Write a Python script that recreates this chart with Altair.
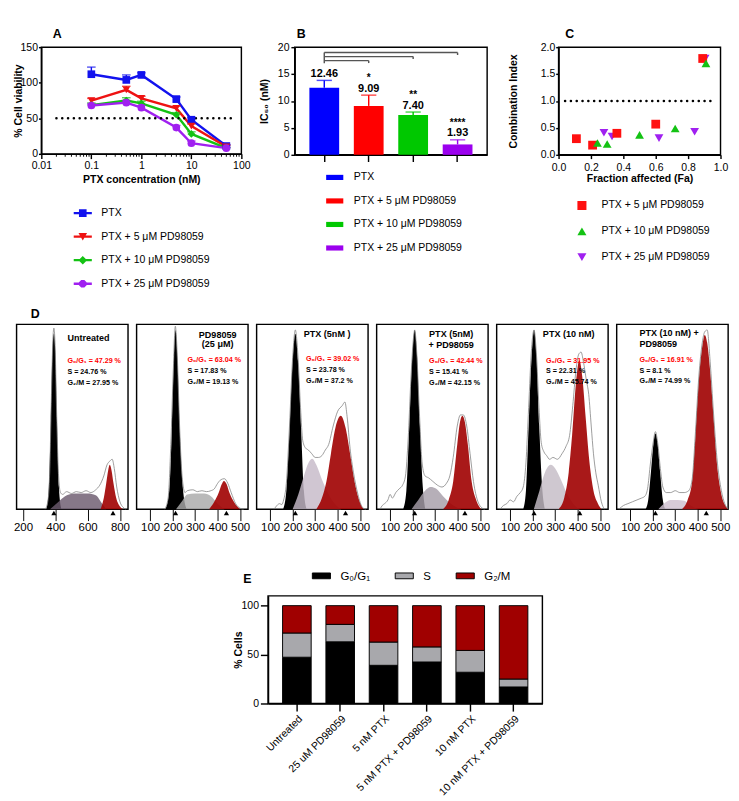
import altair as alt
import pandas as pd

FONT = "Liberation Sans"
NARROW = "Liberation Sans Narrow, Liberation Sans"

# ---------------- Panel A : cell viability ----------------
A_CONC = [0.1, 0.5, 1, 5, 10, 50]
A_SERIES = ["PTX", "PTX + 5 μM PD98059", "PTX + 10 μM PD98059", "PTX + 25 μM PD98059"]
A_PTX = [112, 104, 111, 77, 48, 11]
A_PTX5 = [75, 90, 78, 64, 39, 10]
A_PTX10 = [68.5, 75, 71, 55, 28, 8]
A_PTX25 = [68, 72, 65, 37, 15, 8]
A_ERR_PTX = [10, 7, 3, 3, 3, 2]
A_ERR_5 = [3, 5, 3, 3, 3, 2]
A_ERR_10 = [3, 4, 3, 3, 3, 1]
A_ERR_25 = [2, 3, 3, 3, 3, 1]
A_COLORS = ["#1212EE", "#EE1212", "#14C214", "#A020F0"]
A_SHAPES = ["square", "triangle-down", "diamond", "circle"]
A_LEG_PATHS = [
    "M-1.9,-0.25H1.9V0.25H-1.9Z M-0.8,-0.8H0.8V0.8H-0.8Z",
    "M-1.9,-0.25H1.9V0.25H-1.9Z M-0.9,-0.75L0.9,-0.75L0,0.8Z",
    "M-1.9,-0.25H1.9V0.25H-1.9Z M0,-0.9L0.9,0L0,0.9L-0.9,0Z",
    "M-1.9,-0.25H1.9V0.25H-1.9Z M-0.33,-0.8L0.33,-0.8L0.8,-0.33L0.8,0.33L0.33,0.8L-0.33,0.8L-0.8,0.33L-0.8,-0.33Z",
]
A_XTICKS = [0.01, 0.1, 1, 10, 100]
A_MINOR = [0.02, 0.03, 0.04, 0.05, 0.06, 0.07, 0.08, 0.09,
           0.2, 0.3, 0.4, 0.5, 0.6, 0.7, 0.8, 0.9,
           2, 3, 4, 5, 6, 7, 8, 9,
           20, 30, 40, 50, 60, 70, 80, 90]
A_YTICKS = [0, 50, 100, 150]
A_CUT_FROM, A_CUT_TO, A_CUT_Y = 0.02, 70, 50

# ---------------- Panel B : IC50 ----------------
B_IC50 = [12.46, 9.09, 7.40, 1.93]
B_ERR = [1.37, 2.0, 0.55, 0.86]
B_STARS = ["", "*", "**", "****"]
B_COLORS = ["#0000FF", "#FF0000", "#00C800", "#9B00EE"]
B_BR_TO = [A_SERIES[1], A_SERIES[2], A_SERIES[3]]
B_BR_Y = [17.5, 18.25, 19.0]
B_BR_LOW = [17.05, 17.8, 18.55]
B_BR_LEFT = [19.0, 17.0]

# ---------------- Panel C : combination index ----------------
C_SERIES = A_SERIES[1:]
C_COLORS = ["#FF1010", "#14C214", "#A020F0"]
C_SHAPES = ["square", "triangle-up", "triangle-down"]
C_FA_5 = [0.11, 0.21, 0.36, 0.60, 0.89]
C_CI_5 = [0.30, 0.18, 0.40, 0.57, 1.79]
C_FA_10 = [0.24, 0.30, 0.50, 0.72, 0.91]
C_CI_10 = [0.22, 0.20, 0.37, 0.49, 1.70]
C_FA_25 = [0.28, 0.33, 0.62, 0.84, 0.905]
C_CI_25 = [0.41, 0.34, 0.31, 0.43, 1.79]
C_CUT_FROM, C_CUT_TO, C_CUT_Y = 0.04, 0.97, 1.0

# ---------------- Panel E / D : cell cycle ----------------
E_CATS = ["Untreated", "25 uM PD98059", "5 nM PTX", "5 nM PTX + PD98059", "10 nM PTX", "10 nM PTX + PD98059"]
PHASES = ["G₀/G₁", "S", "G₂/M"]
PHASE_COLORS = ["#000000", "#A8A8AC", "#A00000"]
G0G1 = [47.29, 63.04, 39.02, 42.44, 31.95, 16.91]
S_PH = [24.76, 17.83, 23.78, 15.41, 22.31, 8.1]
G2M = [27.95, 19.13, 37.2, 42.15, 45.74, 74.99]

# flow histograms (channel, relative count)
D_DOMAIN = [[160, 850], [40, 535], [40, 535], [40, 535], [40, 535], [40, 535]]
D_TICKS = [[200, 400, 600, 800], [100, 200, 300, 400, 500], [100, 200, 300, 400, 500],
           [100, 200, 300, 400, 500], [100, 200, 300, 400, 500], [100, 200, 300, 400, 500]]
D_S_COLOR = ["#6B5A6E", "#A9A9A9", "#C6BAC8", "#A69DA8", "#C4BCC6", "#CEBFD0"]
D_G1 = [
    [(345, 0), (360, 12), (372, 48), (382, 85), (391, 95), (400, 85), (410, 48), (422, 12), (437, 0)],
    [(168, 0), (185, 10), (197, 45), (206, 82), (213, 97), (221, 82), (231, 45), (245, 12), (262, 0)],
    [(158, 0), (172, 10), (186, 42), (200, 80), (212, 95), (224, 80), (238, 42), (250, 10), (262, 0)],
    [(158, 0), (172, 10), (185, 45), (198, 82), (209, 97), (220, 82), (232, 45), (245, 12), (256, 0)],
    [(158, 0), (170, 10), (182, 45), (195, 82), (206, 97), (217, 82), (229, 45), (242, 12), (254, 0)],
    [(168, 0), (180, 5), (192, 20), (203, 35), (212, 41), (222, 35), (233, 20), (245, 5), (256, 0)],
]
D_S = [
    [(367, 0), (420, 4), (460, 7), (520, 8.5), (600, 8.5), (650, 7.5), (690, 3), (715, 0)],
    [(215, 0), (240, 4), (265, 8), (300, 8.5), (340, 8.5), (370, 7), (400, 3), (430, 0)],
    [(200, 0), (225, 8), (250, 18), (270, 25), (287, 27.3), (305, 24), (330, 16), (360, 8), (390, 2.5), (415, 0)],
    [(195, 0), (225, 5), (255, 10), (280, 12), (305, 11), (335, 7), (370, 3), (415, 0)],
    [(205, 0), (230, 10), (255, 20), (280, 24), (300, 22), (325, 16), (350, 9), (380, 3), (408, 0)],
    [(225, 0), (250, 3), (280, 5), (310, 5), (340, 4.5), (370, 2), (400, 0)],
]
D_G2 = [
    [(680, 0), (700, 6), (715, 14), (727, 21), (737, 24), (748, 21), (760, 14), (777, 6), (800, 1.5), (820, 0)],
    [(362, 0), (385, 4), (405, 9), (418, 13.5), (428, 15.3), (440, 13.5), (452, 9), (472, 4), (500, 0)],
    [(305, 0), (330, 6), (350, 15), (370, 30), (390, 44), (414, 50.5), (435, 44), (455, 30), (475, 15), (495, 5), (515, 0)],
    [(335, 0), (360, 5), (380, 15), (398, 35), (410, 47), (421, 50.5), (432, 47), (445, 35), (462, 15), (482, 5), (505, 0)],
    [(315, 0), (340, 6), (360, 20), (375, 40), (392, 68), (407, 80.6), (420, 72), (435, 50), (450, 28), (470, 10), (490, 3), (505, 0)],
    [(330, 0), (355, 5), (375, 15), (390, 40), (405, 70), (420, 88), (431, 94.3), (442, 90), (455, 75), (470, 50), (485, 25), (505, 8), (525, 1.5), (535, 0)],
]
D_OUT = [
    [(338, 0), (355, 5), (366, 22), (376, 62), (385, 92), (391, 98), (398, 90), (408, 52), (420, 18), (432, 9), (445, 8),
     (470, 9.5), (500, 8.5), (530, 9.5), (560, 9), (590, 10), (620, 9), (650, 10.5), (675, 13), (700, 18), (720, 24),
     (737, 26), (752, 27), (765, 22), (780, 12), (800, 4), (820, 1), (835, 0)],
    [(165, 0), (180, 6), (192, 35), (203, 75), (212, 99), (220, 85), (230, 48), (242, 18), (255, 9), (265, 10), (290, 10.5),
     (310, 9.5), (330, 10), (350, 9.5), (370, 10), (385, 11), (400, 14), (415, 16), (430, 16.5), (445, 14), (460, 9),
     (480, 3), (500, 0.5), (515, 0)],
    [(118, 0), (130, 2), (142, 3), (152, 2.5), (160, 5), (172, 14), (186, 45), (200, 82), (212, 97), (224, 82), (235, 55),
     (245, 37), (258, 33), (270, 32), (285, 30), (300, 28), (315, 28), (330, 29), (345, 32), (360, 35), (380, 45),
     (400, 53), (420, 56), (432, 58), (442, 50), (455, 33), (470, 20), (490, 8), (510, 1), (525, 0)],
    [(55, 0), (65, 2), (75, 3), (90, 5), (100, 8), (110, 6), (125, 9), (140, 11), (155, 13), (168, 18), (180, 38), (192, 70),
     (203, 92), (209, 97), (218, 85), (230, 52), (242, 25), (255, 18), (270, 17), (290, 15), (310, 13), (330, 12),
     (350, 14), (365, 18), (380, 28), (398, 45), (412, 51), (425, 51), (440, 45), (455, 30), (470, 15), (490, 4),
     (505, 1), (520, 0)],
    [(55, 0), (70, 2), (85, 3), (100, 5), (115, 4), (130, 7), (145, 9), (158, 12), (170, 25), (182, 55), (195, 87),
     (206, 97), (216, 85), (228, 55), (238, 36), (250, 31), (262, 29), (275, 27), (290, 28), (310, 27), (330, 30),
     (348, 34), (364, 40), (378, 56), (392, 75), (405, 84), (415, 85), (425, 80), (438, 70), (449, 62), (460, 45),
     (470, 30), (480, 20), (491, 13), (505, 4), (518, 0)],
    [(50, 0), (70, 2), (90, 3), (110, 4), (130, 5), (150, 6), (165, 7), (177, 11), (190, 25), (202, 36), (212, 42),
     (222, 36), (234, 22), (245, 12), (260, 9), (280, 9), (300, 10), (320, 9), (340, 9), (360, 10), (375, 16), (390, 42),
     (405, 72), (420, 90), (431, 96), (442, 97), (455, 80), (470, 52), (485, 28), (505, 10), (520, 3), (535, 0)],
]
D_MARKS = [[391, 757], [213, 439], [212, 435], [209, 432], [206, 409], [212, 438]]
D_TITLES = [["Untreated"], ["PD98059", "(25 μM)"], ["PTX (5nM )"], ["PTX (5nM)", "+ PD98059"],
            ["PTX (10 nM)"], ["PTX (10 nM) +", "PD98059"]]
# annotation anchors (channel, relative height)
D_TITLE_X = [475, 400, 353, 371, 360, 141]
D_TITLE_ALIGN = ["left", "center", "center", "center", "center", "left"]
D_TITLE_Y = [[92.3], [94.3, 89.2], [94.8], [94.8, 88.7], [94.8], [95.2, 89.2]]
D_STAT_X = [475, 266, 259, 273, 259, 141]
D_STAT_Y = [[80, 74, 68.4], [80.6, 74.6, 69], [81.4, 75.4, 69.4], [80.2, 74.2, 68.4], [80, 74.6, 69], [80.6, 74.9, 69.4]]


def spacer(w, h):
    return alt.Chart(pd.DataFrame({"v": [0]})).mark_point(opacity=0, size=1).encode(
        x=alt.value(0), y=alt.value(0)
    ).properties(width=w, height=h, view=alt.ViewBackground(stroke="transparent"))


def ptitle(letter, dx, offset, anchor="start"):
    return alt.TitleParams(text=letter, anchor=anchor, frame="group", dx=dx, offset=offset,
                           fontSize=13, fontWeight="bold", font=FONT, color="black")


def letter(t, dx):
    return alt.Chart(pd.DataFrame({"t": [t]})).mark_text(
        fontSize=13, fontWeight="bold", font=FONT, color="black", align="left", baseline="alphabetic"
    ).encode(text="t:N", x=alt.value(dx), y=alt.value(-10))


# ================= Panel A =================
rowsA = []
for s, vals, errs in zip(A_SERIES, [A_PTX, A_PTX5, A_PTX10, A_PTX25],
                         [A_ERR_PTX, A_ERR_5, A_ERR_10, A_ERR_25]):
    for c, v, e in zip(A_CONC, vals, errs):
        rowsA.append({"series": s, "conc": c, "v": v, "hi": v + e})
dfA = pd.DataFrame(rowsA)

xsA = alt.Scale(type="log", domain=[0.01, 100], nice=False)
ysA = alt.Scale(domain=[0, 150], nice=False)
axA_x = alt.Axis(values=A_XTICKS, format="~g", title="PTX concentration (nM)", titleY=21, titleBaseline="top",
                 tickSize=5, labelPadding=1, labelFlush=False, labelFontSize=11)
axA_y = alt.Axis(values=A_YTICKS, title="% Cell viability", titleX=-18.5, tickSize=3, labelPadding=1,
                 labelFontSize=11)


def XA(f):
    return alt.X(f, scale=xsA, axis=axA_x)


def YA(f):
    return alt.Y(f, scale=ysA, axis=axA_y)


colA = alt.Color("series:N", scale=alt.Scale(domain=A_SERIES, range=A_COLORS), legend=None)
legA = alt.Legend(orient="none", legendX=38, legendY=168.7, title=None, labelFontSize=11, labelFont=FONT,
                  symbolSize=100, rowPadding=12.7, labelOffset=14, symbolStrokeWidth=0)

cutA = pd.DataFrame({"x": [A_CUT_FROM], "x2": [A_CUT_TO], "y": [A_CUT_Y]})
a_cut = alt.Chart(cutA).mark_rule(strokeDash=[0.1, 6], strokeCap="round", strokeWidth=2.6, color="black").encode(
    x=XA("x:Q"), x2="x2:Q", y=YA("y:Q"))
a_minor = alt.Chart(pd.DataFrame({"m": A_MINOR})).mark_rule(strokeWidth=1, color="black").encode(
    x=XA("m:Q"), y=alt.value(112), y2=alt.value(115))
a_err = alt.Chart(dfA).mark_rule(strokeWidth=1.5).encode(x=XA("conc:Q"), y=YA("v:Q"), y2="hi:Q", color=colA)
a_cap = alt.Chart(dfA).mark_tick(orient="horizontal", size=9, thickness=1.5).encode(
    x=XA("conc:Q"), y=YA("hi:Q"), color=colA)
a_line = alt.Chart(dfA).mark_line(strokeWidth=2.5).encode(x=XA("conc:Q"), y=YA("v:Q"), color=colA)
a_pts = alt.Chart(dfA).mark_point(filled=True, size=65, opacity=1).encode(
    x=XA("conc:Q"), y=YA("v:Q"), color=colA,
    shape=alt.Shape("series:N", scale=alt.Scale(domain=A_SERIES, range=A_SHAPES), legend=None))
a_leg = alt.Chart(dfA).transform_filter("false").mark_point(filled=True, opacity=1).encode(
    x=XA("conc:Q"), y=YA("v:Q"),
    color=alt.Color("series:N", scale=alt.Scale(domain=A_SERIES, range=A_COLORS), legend=legA),
    shape=alt.Shape("series:N", scale=alt.Scale(domain=A_SERIES, range=A_LEG_PATHS), legend=legA))
chartA = alt.layer(a_line, a_cut, a_minor, a_err, a_cap, a_pts, a_leg, letter("A", 12)).resolve_scale(
    color="independent", shape="independent").properties(width=210, height=112)

# ================= Panel B =================
dfB = pd.DataFrame({"g": A_SERIES, "ic50": B_IC50, "hi": [v + e for v, e in zip(B_IC50, B_ERR)], "star": B_STARS})
xsB = alt.Scale(domain=A_SERIES, paddingInner=0.33, paddingOuter=0.33)
ysB = alt.Scale(domain=[0, 20], nice=False)
axB_x = alt.Axis(labels=False, title=None, tickSize=7)
axB_y = alt.Axis(values=[0, 5, 10, 15, 20], title="IC₅₀ (nM)", titleX=-26.5, tickSize=4, labelPadding=2,
                 labelFontSize=11)


def XB(f):
    return alt.X(f, sort=A_SERIES, scale=xsB, axis=axB_x)


def YB(f):
    return alt.Y(f, scale=ysB, axis=axB_y)


colB_scale = alt.Scale(domain=A_SERIES, range=B_COLORS)
legB = alt.Legend(orient="none", legendX=33, legendY=127.7, title=None, symbolType="M-1,-0.3H1V0.3H-1Z",
                  symbolSize=324, labelFontSize=11, labelOffset=11, rowPadding=10.7, symbolStrokeWidth=0)
b_bar = alt.Chart(dfB).mark_bar().encode(x=XB("g:N"), y=YB("ic50:Q"),
                                         color=alt.Color("g:N", scale=colB_scale, legend=legB))
b_err = alt.Chart(dfB).mark_rule(strokeWidth=1.5).encode(
    x=XB("g:N"), y=YB("ic50:Q"), y2="hi:Q", color=alt.Color("g:N", scale=colB_scale, legend=None))
b_cap = alt.Chart(dfB).mark_tick(orient="horizontal", size=16, thickness=1.5).encode(
    x=XB("g:N"), y=YB("hi:Q"), color=alt.Color("g:N", scale=colB_scale, legend=None))
b_lab = alt.Chart(dfB).mark_text(fontSize=11.5, fontWeight="bold", baseline="alphabetic", dy=-3.5,
                                 color="black").encode(x=XB("g:N"), y=YB("hi:Q"),
                                                       text=alt.Text("ic50:Q", format=".2f"))
b_star = alt.Chart(dfB).mark_text(fontSize=10.5, fontWeight="bold", baseline="alphabetic", dy=-14.5,
                                  color="black").encode(x=XB("g:N"), y=YB("hi:Q"), text="star:N")
dfBr = pd.DataFrame({"a": [A_SERIES[0]] * 3, "b": B_BR_TO, "y": B_BR_Y, "ylow": B_BR_LOW})
b_brh = alt.Chart(dfBr).mark_rule(strokeWidth=1.5, color="#555555").encode(
    x=XB("a:N"), x2="b:N", y=YB("y:Q"))
b_brv = alt.Chart(dfBr).mark_rule(strokeWidth=1.5, color="#555555").encode(
    x=XB("b:N"), y=YB("y:Q"), y2="ylow:Q")
dfBl = pd.DataFrame({"a": [A_SERIES[0]], "y": [B_BR_LEFT[0]], "y2": [B_BR_LEFT[1]]})
b_brl = alt.Chart(dfBl).mark_rule(strokeWidth=1.5, color="#555555").encode(
    x=XB("a:N"), y=YB("y:Q"), y2="y2:Q")
chartB = alt.layer(b_bar, b_err, b_cap, b_lab, b_star, b_brh, b_brv, b_brl, letter("B", 2)).properties(
    width=202, height=113)

# ================= Panel C =================
rowsC = []
for s, fa, ci in [(C_SERIES[2], C_FA_25, C_CI_25), (C_SERIES[0], C_FA_5, C_CI_5), (C_SERIES[1], C_FA_10, C_CI_10)]:
    for f, c in zip(fa, ci):
        rowsC.append({"series": s, "fa": f, "ci": c})
dfC = pd.DataFrame(rowsC)
xsC = alt.Scale(domain=[0, 1], nice=False)
ysC = alt.Scale(domain=[0, 2], nice=False)
axC_x = alt.Axis(values=[0, 0.2, 0.4, 0.6, 0.8, 1.0], format=".1f", title="Fraction affected (Fa)", titleY=19,
                 titleBaseline="top", tickSize=4, labelPadding=3, labelFlush=False, labelFontSize=11)
axC_y = alt.Axis(values=[0, 0.5, 1.0, 1.5, 2.0], format=".1f", title="Combination Index", titleX=-42, tickSize=3,
                 labelPadding=1, labelFontSize=11)
legC = alt.Legend(orient="none", legendX=19, legendY=160.7, title=None, labelFontSize=11, symbolSize=90,
                  rowPadding=15.1, labelOffset=15, symbolStrokeWidth=0)
c_pts = alt.Chart(dfC).mark_point(filled=True, size=85, opacity=1).encode(
    x=alt.X("fa:Q", scale=xsC, axis=axC_x),
    y=alt.Y("ci:Q", scale=ysC, axis=axC_y),
    color=alt.Color("series:N", scale=alt.Scale(domain=C_SERIES, range=C_COLORS), legend=legC),
    shape=alt.Shape("series:N", scale=alt.Scale(domain=C_SERIES, range=C_SHAPES), legend=legC))
cutC = pd.DataFrame({"x": [C_CUT_FROM], "x2": [C_CUT_TO], "y": [C_CUT_Y]})
c_cut = alt.Chart(cutC).mark_rule(strokeDash=[0.1, 6], strokeCap="round", strokeWidth=2.6, color="black").encode(
    x=alt.X("x:Q", scale=xsC, axis=axC_x), x2="x2:Q", y=alt.Y("y:Q", scale=ysC, axis=axC_y))
chartC = alt.layer(c_pts, c_cut, letter("C", 7)).properties(width=170, height=113)


# ================= Panel D =================
def flow_panel(i):
    xs = alt.Scale(domain=D_DOMAIN[i], nice=False, zero=False)
    ys = alt.Scale(domain=[0, 100], nice=False)
    X = alt.X("x:Q", scale=xs, axis=alt.Axis(values=D_TICKS[i], title=None, domain=False, tickSize=12, tickWidth=1,
                                            labelFontSize=12, labelPadding=1, labelFlush=False, labelOverlap=False,
                                            grid=False, format="d"))
    Y = alt.Y("y:Q", scale=ys, axis=None)

    def pts(lst):
        return pd.DataFrame(lst, columns=["x", "y"])

    g1 = alt.Chart(pts(D_G1[i])).mark_area(color="black", interpolate="monotone").encode(x=X, y=Y)
    s = alt.Chart(pts(D_S[i])).mark_area(color=D_S_COLOR[i], opacity=0.82, interpolate="monotone").encode(x=X, y=Y)
    g2 = alt.Chart(pts(D_G2[i])).mark_area(color="#A00000", opacity=0.9, interpolate="monotone").encode(x=X, y=Y)
    out = alt.Chart(pts(D_OUT[i])).mark_line(color="#808080", strokeWidth=0.8, interpolate="monotone").encode(x=X, y=Y)
    mk = alt.Chart(pd.DataFrame({"x": D_MARKS[i]})).mark_point(shape="triangle-up", filled=True, color="black",
                                                                size=30, opacity=1).encode(x=X, y=alt.value(198))
    tdf = pd.DataFrame({"x": [D_TITLE_X[i]] * len(D_TITLES[i]), "y": D_TITLE_Y[i], "t": D_TITLES[i]})
    tt = alt.Chart(tdf).mark_text(align=D_TITLE_ALIGN[i], baseline="middle", fontSize=9.5, fontWeight="bold",
                                  font=NARROW, color="black").encode(x=X, y=Y, text="t:N")
    red = pd.DataFrame({"x": [D_STAT_X[i]], "y": [D_STAT_Y[i][0]], "t": [f"G₀/G₁ = {G0G1[i]} %"]})
    blk = pd.DataFrame({"x": [D_STAT_X[i]] * 2, "y": D_STAT_Y[i][1:],
                        "t": [f"S = {S_PH[i]} %", f"G₂/M = {G2M[i]} %"]})
    tr = alt.Chart(red).mark_text(align="left", baseline="middle", fontSize=7.5, fontWeight="bold", font=NARROW,
                                  color="#FF0000").encode(x=X, y=Y, text="t:N")
    tb = alt.Chart(blk).mark_text(align="left", baseline="middle", fontSize=7.5, fontWeight="bold", font=NARROW,
                                  color="black").encode(x=X, y=Y, text="t:N")
    ch = alt.layer(g1, s, g2, out, mk, tt, tr, tb).properties(width=117, height=194)
    if i == 0:
        ch = ch.properties(title=ptitle("D", 15, 3.5))
    return ch


# ================= Panel E =================
rowsE = []
for c, a, b, d in zip(E_CATS, G0G1, S_PH, G2M):
    for k, (ph, v) in enumerate(zip(PHASES, [a, b, d])):
        rowsE.append({"cat": c, "phase": ph, "val": v, "ord": k})
dfE = pd.DataFrame(rowsE)
legE = alt.Legend(orient="none", legendX=46, legendY=-31, direction="horizontal", columns=3, title=None,
                  symbolType="M-1,-0.32H1V0.32H-1Z", symbolSize=361, symbolStrokeColor="black",
                  symbolStrokeWidth=1, labelFontSize=12, labelOffset=10, columnPadding=23)
chartE = alt.Chart(dfE).mark_bar(stroke="black", strokeWidth=1).encode(
    x=alt.X("cat:N", sort=E_CATS, scale=alt.Scale(paddingInner=0.34, paddingOuter=0.335),
            axis=alt.Axis(title=None, labelAngle=-45, labelFontSize=11, tickSize=8, labelPadding=2)),
    y=alt.Y("val:Q", stack="zero", scale=alt.Scale(domain=[0, 110], nice=False),
            axis=alt.Axis(values=[0, 50, 100], title="% Cells", titleX=-26, tickSize=8, labelPadding=2,
                          labelFontSize=11)),
    color=alt.Color("phase:N", scale=alt.Scale(domain=PHASES, range=PHASE_COLORS), legend=legE),
    order=alt.Order("ord:Q", sort="ascending"),
).properties(width=288, height=113, title=ptitle("E", -26, -21))

# ================= Layout =================
IND = dict(color="independent", shape="independent")
row1 = alt.hconcat(spacer(0.5, 113), chartA, spacer(3.8, 113), chartB, spacer(16.75, 113), chartC,
                   spacing=0).resolve_scale(**IND)
panels = []
for i in range(6):
    if i == 0:
        panels.append(spacer(1.8, 194))
    elif i == 1:
        panels.append(spacer(1.55, 194))
    else:
        panels.append(spacer(1.35, 194))
    panels.append(flow_panel(i))
row2 = alt.hconcat(*panels, spacing=0).resolve_scale(**IND)
row3 = alt.hconcat(spacer(231.5, 113), chartE, spacing=0).resolve_scale(**IND)

chart = alt.vconcat(row1, spacer(1, 14.7), row2, spacer(1, 31), row3, spacing=0).resolve_scale(**IND).properties(
    padding=0)
chart = chart.configure(font=FONT).configure_view(stroke="black", strokeWidth=1.5).configure_axis(
    domainColor="black", domainWidth=1.5, tickColor="black", tickWidth=1.5, labelColor="black",
    titleColor="black", labelFont=FONT, titleFont=FONT, titleFontSize=11, titleFontWeight="bold", grid=False
).configure_legend(labelFont=FONT, labelColor="black")

chart.save("out.html", embed_options={"renderer": "svg", "actions": False})
